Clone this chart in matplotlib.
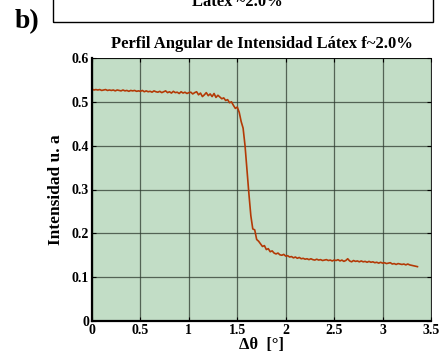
import numpy as np
import matplotlib
matplotlib.use("Agg")
import matplotlib.pyplot as plt
from matplotlib.patches import Rectangle

plt.rcParams['font.family'] = ['Liberation Serif', 'DejaVu Serif']
plt.rcParams['font.weight'] = 'bold'

# Angular intensity profile, sampled every 0.02 degrees from 0
theta_start = 0.0
theta_step = 0.02
intensity = [
    0.529, 0.527, 0.528, 0.527, 0.528, 0.526, 0.527, 0.528, 0.526, 0.527,
    0.526, 0.527, 0.525, 0.527, 0.526, 0.525, 0.527, 0.525, 0.526, 0.524,
    0.526, 0.525, 0.526, 0.524, 0.525, 0.524, 0.526, 0.523, 0.525, 0.523,
    0.524, 0.522, 0.525, 0.523, 0.522, 0.524, 0.521, 0.523, 0.525, 0.521,
    0.523, 0.520, 0.524, 0.521, 0.522, 0.519, 0.523, 0.520, 0.522, 0.519,
    0.521, 0.522, 0.518, 0.521, 0.523, 0.516, 0.520, 0.512, 0.516, 0.521,
    0.514, 0.518, 0.512, 0.519, 0.510, 0.515, 0.511, 0.507, 0.509, 0.503,
    0.505, 0.498, 0.500, 0.492, 0.485, 0.488, 0.476, 0.455, 0.440, 0.400,
    0.345, 0.290, 0.240, 0.210, 0.208, 0.186, 0.182, 0.176, 0.170, 0.172,
    0.163, 0.165, 0.158, 0.160, 0.155, 0.153, 0.155, 0.151, 0.150, 0.152,
    0.148, 0.149, 0.146, 0.147, 0.144, 0.146, 0.143, 0.145, 0.142, 0.143,
    0.141, 0.142, 0.140, 0.142, 0.140, 0.139, 0.141, 0.139, 0.140, 0.138,
    0.139, 0.140, 0.138, 0.139, 0.137, 0.139, 0.138, 0.140, 0.137, 0.139,
    0.136, 0.138, 0.142, 0.137, 0.135, 0.138, 0.136, 0.137, 0.135, 0.137,
    0.135, 0.136, 0.134, 0.136, 0.134, 0.135, 0.133, 0.134, 0.132, 0.134,
    0.132, 0.133, 0.131, 0.132, 0.133, 0.130, 0.131, 0.129, 0.131, 0.130,
    0.129, 0.130, 0.128, 0.130, 0.128, 0.127, 0.126, 0.125, 0.124,
]
theta = theta_start + theta_step * np.arange(len(intensity))

x_ticks = [0, 0.5, 1, 1.5, 2, 2.5, 3, 3.5]
x_tick_labels = ['0', '0.5', '1', '1.5', '2', '2.5', '3', '3.5']
y_ticks = [0, 0.1, 0.2, 0.3, 0.4, 0.5, 0.6]
y_tick_labels = ['0', '0.1', '0.2', '0.3', '0.4', '0.5', '0.6']

fig = plt.figure(figsize=(4.41, 3.59), dpi=100)
ax = fig.add_axes([92 / 441, 1 - 321 / 359, (431 - 92) / 441, (321 - 58) / 359])
ax.set_facecolor('#c2ddc6')

ax.plot(theta, intensity, color='#b33a06', lw=1.2)

ax.set_xlim(0, 3.5)
ax.set_ylim(0, 0.6)
ax.set_xticks(x_ticks)
ax.set_xticklabels(x_tick_labels)
ax.set_yticks(y_ticks)
ax.set_yticklabels(y_tick_labels)
ax.grid(True, color='#2e3a30', lw=0.9, alpha=0.75)
ax.set_axisbelow(True)
ax.tick_params(direction='in', length=3, width=0.8, top=True, right=True,
               labelsize=10, pad=2)
for lab in ax.get_xticklabels() + ax.get_yticklabels():
    lab.set_fontweight('bold')
for side in ['left', 'bottom']:
    ax.spines[side].set_linewidth(1.6)
for side in ['right', 'top']:
    ax.spines[side].set_linewidth(0.6)

ax.set_title('Perfil Angular de Intensidad Látex f~2.0%', fontsize=12,
             fontweight='bold', pad=7)
ax.set_ylabel('Intensidad u. a', fontsize=12.5, fontweight='bold', labelpad=6)
ax.set_xlabel('Δθ  [°]', fontsize=12, fontweight='bold', labelpad=0)

# Header box and panel letter
fig.patches.append(Rectangle((53 / 441, 1 - 22 / 359), (433 - 53) / 441, 0.2,
                             transform=fig.transFigure, fill=False,
                             edgecolor='black', lw=1.0))
fig.text(237 / 441, 1 - 6 / 359, 'Látex ~2.0%', ha='center', va='baseline',
         fontsize=12, fontweight='bold')
fig.text(15 / 441, 1 - 28.5 / 359, 'b)', ha='left', va='baseline',
         fontsize=20, fontweight='bold')

fig.savefig('out.png', dpi=100)
